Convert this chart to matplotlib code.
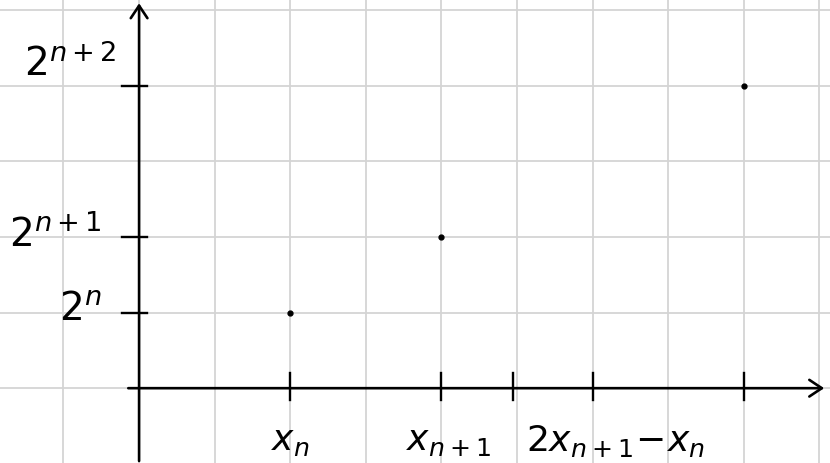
import matplotlib
matplotlib.use("Agg")
import matplotlib.pyplot as plt

# points of the sketch, in grid units (one square = 1)
px = [2, 4, 8]
py = [1, 2, 4]

# ticks on the axes
xtick_pos = [2, 4, 4.95, 6, 8]
ytick_pos = [1, 2, 4]
ytick_labels = ["$2^{n}$", "$2^{n+1}$", "$2^{n+2}$"]
xlabel_pos = [2.0, 4.1, 6.3]
xlabel_text = ["$x_n$", "$x_{n+1}$", "$2x_{n+1}\\!-\\!x_n$"]

fig = plt.figure(figsize=(8.3, 4.64), dpi=100)
ax = fig.add_axes([0, 0, 1, 1])
ax.set_xlim(-1.84, 9.14)
ax.set_ylim(-0.99, 5.15)
ax.axis("off")

# squared paper
for gx in range(-1, 10):
    ax.axvline(gx, color="#d4d4d4", lw=1.3, zorder=0)
for gy in range(-1, 6):
    ax.axhline(gy, color="#d4d4d4", lw=1.3, zorder=0)

# axes with arrows
arrow = dict(arrowstyle="->,head_length=0.9,head_width=0.6", lw=1.9, color="black")
ax.annotate("", xy=(9.1, 0), xytext=(-0.18, 0), arrowprops=arrow)
ax.annotate("", xy=(0, 5.13), xytext=(0, -1.0), arrowprops=arrow)

# tick marks
for t in xtick_pos:
    ax.plot([t, t], [-0.15, 0.2], color="black", lw=1.7)
for t in ytick_pos:
    ax.plot([-0.22, 0.1], [t, t], color="black", lw=1.7)

# labels (hand placed like the sketch: the top one sits higher)
for t, lab in zip(ytick_pos, ytick_labels):
    dx = -0.3 if t == 4 else -0.5
    dy = 0.3 if t == 4 else 0.05
    ax.text(dx, t + dy, lab, ha="right", va="center", fontsize=28)
for t, lab in zip(xlabel_pos, xlabel_text):
    ax.text(t, -0.68, lab, ha="center", va="center", fontsize=26)

# the points
ax.plot(px, py, "o", color="black", markersize=3.5)

fig.savefig("out.png", dpi=100)
